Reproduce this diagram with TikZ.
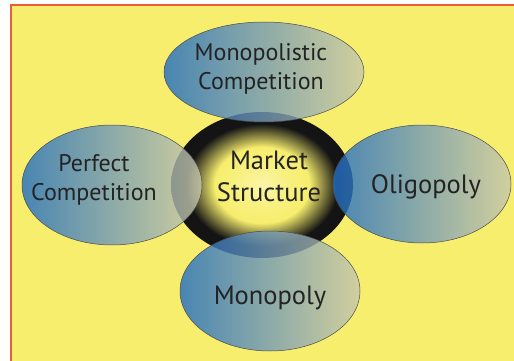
\documentclass[tikz,border=0pt]{standalone}
\usepackage{fontspec}
\setmainfont{PT Sans}
\usetikzlibrary{shapes.geometric}
\definecolor{bgyellow}{RGB}{247,238,110}
\definecolor{frameorange}{RGB}{234,95,53}
\definecolor{satblue}{RGB}{30,108,196}
\definecolor{satgray}{RGB}{200,200,170}
\definecolor{txtgray}{RGB}{35,35,35}
\pgfdeclareradialshading{core}{\pgfpoint{0bp}{0bp}}{%
  color(0bp)=(bgyellow!60!white); color(8bp)=(bgyellow!90!white);
  color(13bp)=(bgyellow); color(21bp)=(black!92); color(50bp)=(black!92)}
\begin{document}
\begin{tikzpicture}[x=1pt, y=-1pt,
    sat/.style={ellipse, draw=black!70, line width=0.5pt, left color=satblue, right color=satgray, fill opacity=0.8, inner sep=0pt},
    lbl/.style={align=center, text=txtgray, font=\fontsize{24}{29}\selectfont},
    big/.style={lbl, font=\fontsize{26.5}{32}\selectfont}]
  \useasboundingbox (0,0) rectangle (514,361);
  \fill[bgyellow] (11,5) rectangle (514,361);
  \draw[frameorange, line width=2.5pt] (11,361) -- (11,5) -- (514,5);
  % centre
  \node[ellipse, shading=core, minimum width=182pt, minimum height=146pt, inner sep=0pt] (ms) at (262,185) {};
  % the four market forms
  \foreach \nm/\pos/\w/\h in {mc/{264,72}/200/100, pc/{112,185}/180/120, ol/{422,184}/178/118, mo/{270,291}/180/120}
    \node[sat, minimum width=\w pt, minimum height=\h pt] (\nm) at (\pos) {};
  \node[big] (mstext) at (269,176) {Market\\Structure};
  \node[lbl] (mctext) at (261,69) {Monopolistic\\Competition};
  \node[lbl] (pctext) at (94,180) {Perfect\\Competition};
  \node[big] (oltext) at (426,187) {Oligopoly};
  \node[big] (motext) at (270,298) {Monopoly};
\end{tikzpicture}
\end{document}
